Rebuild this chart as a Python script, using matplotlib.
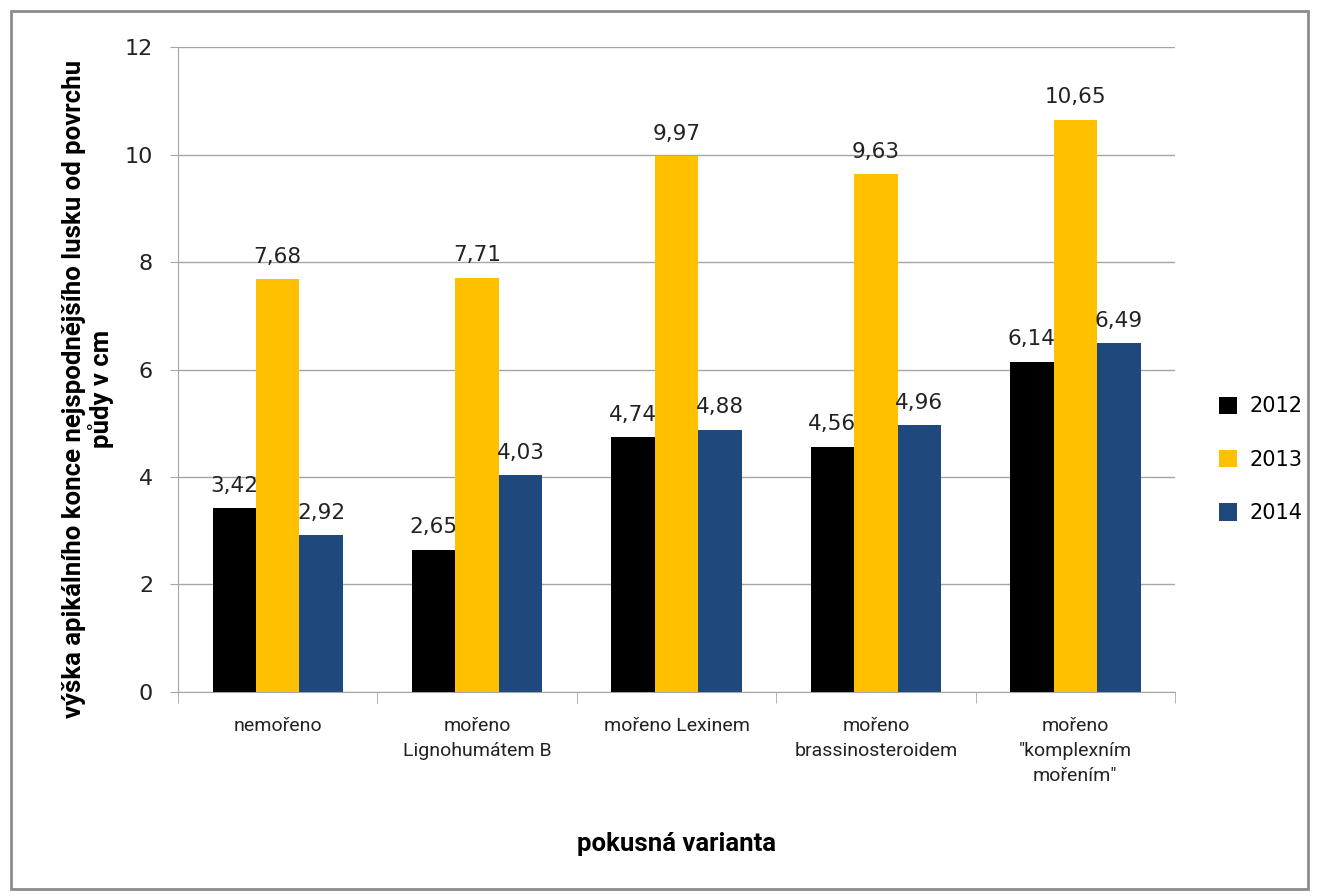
import matplotlib.pyplot as plt
import numpy as np
from matplotlib.patches import Rectangle

categories = ['nemořeno', 'mořeno\nLignohumátem B', 'mořeno Lexinem',
              'mořeno\nbrassinosteroidem', 'mořeno\n"komplexním\nmořením"']
years = ['2012', '2013', '2014']
v2012 = [3.42, 2.65, 4.74, 4.56, 6.14]
v2013 = [7.68, 7.71, 9.97, 9.63, 10.65]
v2014 = [2.92, 4.03, 4.88, 4.96, 6.49]
colors = ['#000000', '#FFC000', '#1F497D']

narrow = ['Roboto', 'DejaVu Sans']

fig = plt.figure(figsize=(13.17, 8.96), dpi=100)
ax = fig.add_axes([0.1352, 0.2277, 0.757, 0.7198])

x = np.arange(len(categories))
w = 0.218
for i, (vals, c, yr) in enumerate(zip([v2012, v2013, v2014], colors, years)):
    bars = ax.bar(x + (i - 1) * w, vals, w, color=c, label=yr, zorder=3)
    for b, v in zip(bars, vals):
        ax.annotate(f'{v:.2f}'.replace('.', ','), (b.get_x() + b.get_width() / 2, v),
                    xytext=(0, 9), textcoords='offset points', ha='center', va='bottom',
                    fontsize=15.5, color='#222222')

ax.set_xlim(-0.5, len(categories) - 0.5)
ax.set_ylim(0, 12)
ax.set_yticks(range(0, 13, 2))
ax.yaxis.grid(True, color='#A6A6A6', lw=1, zorder=0)
ax.tick_params(axis='y', labelsize=16, colors='#A6A6A6', labelcolor='#222222',
               length=6, direction='out', pad=12)

ax.set_xticks(x)
ax.set_xticklabels(categories, fontsize=14, family=narrow, color='#222222', linespacing=1.5)
ax.set_xticks(np.arange(-0.5, len(categories), 1), minor=True)
ax.tick_params(axis='x', which='major', length=0, pad=18)
ax.tick_params(axis='x', which='minor', length=8, color='#A6A6A6')
for t in ax.get_xticklabels():
    t.set_va('top')

for s in ['top', 'right']:
    ax.spines[s].set_visible(False)
for s in ['left', 'bottom']:
    ax.spines[s].set_color('#A6A6A6')

ax.set_ylabel('výška apikálního konce nejspodnějšího lusku od povrchu\npůdy v cm',
              fontsize=18.5, fontweight='bold', family=narrow, linespacing=1.1)
ax.yaxis.set_label_coords(-0.064, 0.47)
ax.set_xlabel('pokusná varianta', fontsize=18.5, fontweight='bold', family=narrow, labelpad=34)

ax.legend(loc='center left', bbox_to_anchor=(1.025, 0.36), frameon=False, fontsize=15,
          handlelength=0.9, handleheight=0.9, labelspacing=1.6, handletextpad=0.6)

fig.patches.append(Rectangle((0.008, 0.008), 0.985, 0.98, transform=fig.transFigure,
                             fill=False, edgecolor='#8C8C8C', lw=2))

fig.savefig('out.png', dpi=100)
